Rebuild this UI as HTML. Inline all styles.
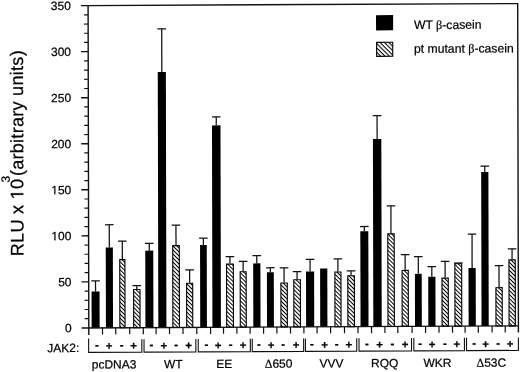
<!DOCTYPE html>
<html><head><meta charset="utf-8"><style>
html,body{margin:0;padding:0;background:#fff;}
body{width:520px;height:372px;overflow:hidden;}
svg{display:block;will-change:transform;}
text{font-family:"Liberation Sans",sans-serif;fill:#000;stroke:#000;stroke-width:0.22px;}
.t12{font-size:12px;}
.sg{font-size:11.5px;font-weight:bold;}
.t11{font-size:12.2px;}
.t16{font-size:18.2px;letter-spacing:0.22px;stroke-width:0.2px;}
.sy{font-family:"Liberation Serif",serif;}
.hid{fill:none;stroke:none;}
.g1{fill:#000;stroke:#000;stroke-width:0.22px;}
.ax{stroke:#111;stroke-width:1.4;}
.tk{stroke:#111;stroke-width:1.2;}
.e{stroke:#111;stroke-width:1.25;}
.br{stroke:#111;stroke-width:1.1;}
</style></head><body>
<svg width="520" height="372" viewBox="0 0 520 372">
<defs><pattern id="h" patternUnits="userSpaceOnUse" width="2.85" height="2.85" patternTransform="rotate(45)"><rect width="2.85" height="2.85" fill="#fff"/><rect width="2.85" height="1.0" fill="#000"/></pattern><pattern id="h2" patternUnits="userSpaceOnUse" width="3.1" height="3.1" patternTransform="rotate(45)"><rect width="3.1" height="3.1" fill="#fff"/><rect width="3.1" height="1.05" fill="#000"/></pattern></defs>
<rect width="520" height="372" fill="#fff"/>
<g transform="matrix(1,-0.00470,0.00220,1,-0.7216,0.4174)">
<line x1="95.63" y1="291.62" x2="95.63" y2="280.94" class="e"/>
<line x1="91.33" y1="280.94" x2="99.93" y2="280.94" class="e"/>
<rect x="91.63" y="291.62" width="8" height="36.28" fill="#000"/>
<line x1="109.48" y1="247.6" x2="109.48" y2="224.86" class="e"/>
<line x1="105.18" y1="224.86" x2="113.78" y2="224.86" class="e"/>
<rect x="105.93" y="247.6" width="7.1" height="80.3" fill="#000"/>
<line x1="122.48" y1="259.2" x2="122.48" y2="241.25" class="e"/>
<line x1="118.18" y1="241.25" x2="126.78" y2="241.25" class="e"/>
<rect x="119.88" y="259.75" width="5.2" height="68.15" fill="url(#h)" stroke="#000" stroke-width="1.1"/>
<line x1="136.88" y1="289.22" x2="136.88" y2="285.82" class="e"/>
<line x1="132.58" y1="285.82" x2="141.18" y2="285.82" class="e"/>
<rect x="133.68" y="289.77" width="6.4" height="38.13" fill="url(#h)" stroke="#000" stroke-width="1.1"/>
<line x1="149.43" y1="250.92" x2="149.43" y2="243.73" class="e"/>
<line x1="145.13" y1="243.73" x2="153.73" y2="243.73" class="e"/>
<rect x="145.43" y="250.92" width="8" height="76.98" fill="#000"/>
<line x1="162.38" y1="72.27" x2="162.38" y2="29.27" class="e"/>
<line x1="158.08" y1="29.27" x2="166.68" y2="29.27" class="e"/>
<rect x="158.33" y="72.27" width="8.1" height="255.63" fill="#000"/>
<line x1="176.18" y1="245.48" x2="176.18" y2="225.59" class="e"/>
<line x1="171.88" y1="225.59" x2="180.48" y2="225.59" class="e"/>
<rect x="172.88" y="246.03" width="6.6" height="81.87" fill="url(#h)" stroke="#000" stroke-width="1.1"/>
<line x1="189.73" y1="283.15" x2="189.73" y2="270.35" class="e"/>
<line x1="185.43" y1="270.35" x2="194.03" y2="270.35" class="e"/>
<rect x="186.68" y="283.7" width="6.1" height="44.2" fill="url(#h)" stroke="#000" stroke-width="1.1"/>
<line x1="203.58" y1="245.58" x2="203.58" y2="238.76" class="e"/>
<line x1="199.28" y1="238.76" x2="207.88" y2="238.76" class="e"/>
<rect x="200.23" y="245.58" width="6.7" height="82.32" fill="#000"/>
<line x1="216.68" y1="125.96" x2="216.68" y2="117.39" class="e"/>
<line x1="212.38" y1="117.39" x2="220.98" y2="117.39" class="e"/>
<rect x="212.43" y="125.96" width="8.5" height="201.94" fill="#000"/>
<line x1="230.08" y1="264.27" x2="230.08" y2="257.36" class="e"/>
<line x1="225.78" y1="257.36" x2="234.38" y2="257.36" class="e"/>
<rect x="226.68" y="264.82" width="6.8" height="63.08" fill="url(#h)" stroke="#000" stroke-width="1.1"/>
<line x1="243.28" y1="271.91" x2="243.28" y2="262.06" class="e"/>
<line x1="238.98" y1="262.06" x2="247.58" y2="262.06" class="e"/>
<rect x="240.28" y="272.46" width="6" height="55.44" fill="url(#h)" stroke="#000" stroke-width="1.1"/>
<line x1="256.93" y1="264.18" x2="256.93" y2="256.44" class="e"/>
<line x1="252.63" y1="256.44" x2="261.23" y2="256.44" class="e"/>
<rect x="253.33" y="264.18" width="7.2" height="63.72" fill="#000"/>
<line x1="270.48" y1="273.11" x2="270.48" y2="268.6" class="e"/>
<line x1="266.18" y1="268.6" x2="274.78" y2="268.6" class="e"/>
<rect x="267.03" y="273.11" width="6.9" height="54.79" fill="#000"/>
<line x1="284.18" y1="283.33" x2="284.18" y2="268.69" class="e"/>
<line x1="279.88" y1="268.69" x2="288.48" y2="268.69" class="e"/>
<rect x="280.98" y="283.88" width="6.4" height="44.02" fill="url(#h)" stroke="#000" stroke-width="1.1"/>
<line x1="297.18" y1="280.2" x2="297.18" y2="272.56" class="e"/>
<line x1="292.88" y1="272.56" x2="301.48" y2="272.56" class="e"/>
<rect x="293.88" y="280.75" width="6.6" height="47.15" fill="url(#h)" stroke="#000" stroke-width="1.1"/>
<line x1="310.18" y1="272.56" x2="310.18" y2="260.4" class="e"/>
<line x1="305.88" y1="260.4" x2="314.48" y2="260.4" class="e"/>
<rect x="306.13" y="272.56" width="8.1" height="55.34" fill="#000"/>
<rect x="320.23" y="269.61" width="7.2" height="58.29" fill="#000"/>
<line x1="338.03" y1="272.65" x2="338.03" y2="260.12" class="e"/>
<line x1="333.73" y1="260.12" x2="342.33" y2="260.12" class="e"/>
<rect x="334.98" y="273.2" width="6.1" height="54.7" fill="url(#h)" stroke="#000" stroke-width="1.1"/>
<line x1="351.18" y1="276.42" x2="351.18" y2="272.19" class="e"/>
<line x1="346.88" y1="272.19" x2="355.48" y2="272.19" class="e"/>
<rect x="347.88" y="276.97" width="6.6" height="50.93" fill="url(#h)" stroke="#000" stroke-width="1.1"/>
<line x1="364.53" y1="232.5" x2="364.53" y2="227.8" class="e"/>
<line x1="360.23" y1="227.8" x2="368.83" y2="227.8" class="e"/>
<rect x="360.53" y="232.5" width="8" height="95.4" fill="#000"/>
<line x1="377.53" y1="140.32" x2="377.53" y2="116.93" class="e"/>
<line x1="373.23" y1="116.93" x2="381.83" y2="116.93" class="e"/>
<rect x="373.33" y="140.32" width="8.4" height="187.58" fill="#000"/>
<line x1="391.18" y1="234.71" x2="391.18" y2="207.27" class="e"/>
<line x1="386.88" y1="207.27" x2="395.48" y2="207.27" class="e"/>
<rect x="387.98" y="235.26" width="6.4" height="92.64" fill="url(#h)" stroke="#000" stroke-width="1.1"/>
<line x1="405.28" y1="271.36" x2="405.28" y2="256.17" class="e"/>
<line x1="400.98" y1="256.17" x2="409.58" y2="256.17" class="e"/>
<rect x="402.18" y="271.91" width="6.2" height="55.99" fill="url(#h)" stroke="#000" stroke-width="1.1"/>
<line x1="418.43" y1="275.41" x2="418.43" y2="258.1" class="e"/>
<line x1="414.13" y1="258.1" x2="422.73" y2="258.1" class="e"/>
<rect x="415.03" y="275.41" width="6.8" height="52.49" fill="#000"/>
<line x1="431.93" y1="278.45" x2="431.93" y2="268.23" class="e"/>
<line x1="427.63" y1="268.23" x2="436.23" y2="268.23" class="e"/>
<rect x="428.33" y="278.45" width="7.2" height="49.45" fill="#000"/>
<line x1="445.23" y1="279.28" x2="445.23" y2="262.98" class="e"/>
<line x1="440.93" y1="262.98" x2="449.53" y2="262.98" class="e"/>
<rect x="442.08" y="279.83" width="6.3" height="48.07" fill="url(#h)" stroke="#000" stroke-width="1.1"/>
<line x1="458.38" y1="264.91" x2="458.38" y2="264.73" class="e"/>
<line x1="454.08" y1="264.73" x2="462.68" y2="264.73" class="e"/>
<rect x="454.98" y="265.46" width="6.8" height="62.44" fill="url(#h)" stroke="#000" stroke-width="1.1"/>
<line x1="472.23" y1="269.7" x2="472.23" y2="235.91" class="e"/>
<line x1="467.93" y1="235.91" x2="476.53" y2="235.91" class="e"/>
<rect x="468.63" y="269.7" width="7.2" height="58.2" fill="#000"/>
<line x1="485.13" y1="173.93" x2="485.13" y2="167.95" class="e"/>
<line x1="480.83" y1="167.95" x2="489.43" y2="167.95" class="e"/>
<rect x="481.53" y="173.93" width="7.2" height="153.97" fill="#000"/>
<line x1="499.13" y1="289.04" x2="499.13" y2="267.58" class="e"/>
<line x1="494.83" y1="267.58" x2="503.43" y2="267.58" class="e"/>
<rect x="495.98" y="289.59" width="6.3" height="38.31" fill="url(#h)" stroke="#000" stroke-width="1.1"/>
<line x1="512.23" y1="261.32" x2="512.23" y2="250.82" class="e"/>
<line x1="507.93" y1="250.82" x2="516.53" y2="250.82" class="e"/>
<rect x="509.08" y="261.87" width="6.3" height="66.03" fill="url(#h)" stroke="#000" stroke-width="1.1"/>
<polyline points="88.8,334.9 88.8,5.6 518.4,5.6 518.4,334.6" class="ax" fill="none"/>
<line x1="81.6" y1="5.6" x2="88.8" y2="5.6" class="ax"/>
<line x1="81.6" y1="327.9" x2="518.4" y2="327.9" class="ax"/>
<line x1="84.7" y1="318.69" x2="88.8" y2="318.69" class="tk"/>
<line x1="84.7" y1="309.48" x2="88.8" y2="309.48" class="tk"/>
<line x1="84.7" y1="300.27" x2="88.8" y2="300.27" class="tk"/>
<line x1="84.7" y1="291.07" x2="88.8" y2="291.07" class="tk"/>
<line x1="81.6" y1="281.86" x2="88.8" y2="281.86" class="ax"/>
<line x1="84.7" y1="272.65" x2="88.8" y2="272.65" class="tk"/>
<line x1="84.7" y1="263.44" x2="88.8" y2="263.44" class="tk"/>
<line x1="84.7" y1="254.23" x2="88.8" y2="254.23" class="tk"/>
<line x1="84.7" y1="245.02" x2="88.8" y2="245.02" class="tk"/>
<line x1="81.6" y1="235.81" x2="88.8" y2="235.81" class="ax"/>
<line x1="84.7" y1="226.61" x2="88.8" y2="226.61" class="tk"/>
<line x1="84.7" y1="217.4" x2="88.8" y2="217.4" class="tk"/>
<line x1="84.7" y1="208.19" x2="88.8" y2="208.19" class="tk"/>
<line x1="84.7" y1="198.98" x2="88.8" y2="198.98" class="tk"/>
<line x1="81.6" y1="189.77" x2="88.8" y2="189.77" class="ax"/>
<line x1="84.7" y1="180.56" x2="88.8" y2="180.56" class="tk"/>
<line x1="84.7" y1="171.35" x2="88.8" y2="171.35" class="tk"/>
<line x1="84.7" y1="162.15" x2="88.8" y2="162.15" class="tk"/>
<line x1="84.7" y1="152.94" x2="88.8" y2="152.94" class="tk"/>
<line x1="81.6" y1="143.73" x2="88.8" y2="143.73" class="ax"/>
<line x1="84.7" y1="134.52" x2="88.8" y2="134.52" class="tk"/>
<line x1="84.7" y1="125.31" x2="88.8" y2="125.31" class="tk"/>
<line x1="84.7" y1="116.1" x2="88.8" y2="116.1" class="tk"/>
<line x1="84.7" y1="106.89" x2="88.8" y2="106.89" class="tk"/>
<line x1="81.6" y1="97.69" x2="88.8" y2="97.69" class="ax"/>
<line x1="84.7" y1="88.48" x2="88.8" y2="88.48" class="tk"/>
<line x1="84.7" y1="79.27" x2="88.8" y2="79.27" class="tk"/>
<line x1="84.7" y1="70.06" x2="88.8" y2="70.06" class="tk"/>
<line x1="84.7" y1="60.85" x2="88.8" y2="60.85" class="tk"/>
<line x1="81.6" y1="51.64" x2="88.8" y2="51.64" class="ax"/>
<line x1="84.7" y1="42.43" x2="88.8" y2="42.43" class="tk"/>
<line x1="84.7" y1="33.23" x2="88.8" y2="33.23" class="tk"/>
<line x1="84.7" y1="24.02" x2="88.8" y2="24.02" class="tk"/>
<line x1="84.7" y1="14.81" x2="88.8" y2="14.81" class="tk"/>
<line x1="102.5" y1="327.9" x2="102.5" y2="334.5" class="tk"/>
<line x1="115.7" y1="327.9" x2="115.7" y2="334.5" class="tk"/>
<line x1="129.7" y1="327.9" x2="129.7" y2="334.5" class="tk"/>
<line x1="143.3" y1="327.9" x2="143.3" y2="334.5" class="tk"/>
<line x1="156.1" y1="327.9" x2="156.1" y2="334.5" class="tk"/>
<line x1="169.5" y1="327.9" x2="169.5" y2="334.5" class="tk"/>
<line x1="183" y1="327.9" x2="183" y2="334.5" class="tk"/>
<line x1="196.8" y1="327.9" x2="196.8" y2="334.5" class="tk"/>
<line x1="210.6" y1="327.9" x2="210.6" y2="334.5" class="tk"/>
<line x1="223.5" y1="327.9" x2="223.5" y2="334.5" class="tk"/>
<line x1="236.9" y1="327.9" x2="236.9" y2="334.5" class="tk"/>
<line x1="250.1" y1="327.9" x2="250.1" y2="334.5" class="tk"/>
<line x1="263.6" y1="327.9" x2="263.6" y2="334.5" class="tk"/>
<line x1="276.9" y1="327.9" x2="276.9" y2="334.5" class="tk"/>
<line x1="290.5" y1="327.9" x2="290.5" y2="334.5" class="tk"/>
<line x1="303.9" y1="327.9" x2="303.9" y2="334.5" class="tk"/>
<line x1="317.1" y1="327.9" x2="317.1" y2="334.5" class="tk"/>
<line x1="330.6" y1="327.9" x2="330.6" y2="334.5" class="tk"/>
<line x1="344.5" y1="327.9" x2="344.5" y2="334.5" class="tk"/>
<line x1="358" y1="327.9" x2="358" y2="334.5" class="tk"/>
<line x1="371.5" y1="327.9" x2="371.5" y2="334.5" class="tk"/>
<line x1="384.9" y1="327.9" x2="384.9" y2="334.5" class="tk"/>
<line x1="397.8" y1="327.9" x2="397.8" y2="334.5" class="tk"/>
<line x1="412.1" y1="327.9" x2="412.1" y2="334.5" class="tk"/>
<line x1="425.6" y1="327.9" x2="425.6" y2="334.5" class="tk"/>
<line x1="439" y1="327.9" x2="439" y2="334.5" class="tk"/>
<line x1="452.5" y1="327.9" x2="452.5" y2="334.5" class="tk"/>
<line x1="465.1" y1="327.9" x2="465.1" y2="334.5" class="tk"/>
<line x1="478.3" y1="327.9" x2="478.3" y2="334.5" class="tk"/>
<line x1="492.1" y1="327.9" x2="492.1" y2="334.5" class="tk"/>
<line x1="505.2" y1="327.9" x2="505.2" y2="334.5" class="tk"/>
<text x="71.6" y="332.2" text-anchor="end" class="t12">0</text>
<text x="71.6" y="286.16" text-anchor="end" class="t12">50</text>
<text x="71.6" y="240.11" text-anchor="end" class="t12"><tspan class="hid">1</tspan>00</text>
<path class="g1" d="M54.6 240.11 L54.6 232.87 L52.73 234.2 L52.73 233.2 L54.68 231.86 L55.66 231.86 L55.66 240.11Z"/>
<text x="71.6" y="194.07" text-anchor="end" class="t12"><tspan class="hid">1</tspan>50</text>
<path class="g1" d="M54.6 194.07 L54.6 186.82 L52.73 188.15 L52.73 187.16 L54.68 185.82 L55.66 185.82 L55.66 194.07Z"/>
<text x="71.6" y="148.03" text-anchor="end" class="t12">200</text>
<text x="71.6" y="101.99" text-anchor="end" class="t12">250</text>
<text x="71.6" y="55.94" text-anchor="end" class="t12">300</text>
<text x="71.6" y="9.9" text-anchor="end" class="t12">350</text>
<g transform="translate(23.6,256) rotate(-90)">
<path class="g1" d="M61.47 0 L61.47 -10.99 L58.64 -8.98 L58.64 -10.49 L61.6 -12.52 L63.08 -12.52 L63.08 0Z"/>
<text class="t16">RLU x <tspan class="hid">1</tspan>0<tspan dx="-3.6" dy="-13.5" font-size="12">3</tspan><tspan dx="-0.7" dy="13.5">(arbitrary units)</tspan></text></g>
<rect x="376.7" y="16.5" width="17.1" height="15.3" fill="#000"/>
<rect x="377.25" y="43.75" width="16.1" height="14" fill="url(#h2)" stroke="#000" stroke-width="1.1"/>
<text x="414.6" y="30.6" class="t11">WT <tspan class="sy">β</tspan>-casein</text>
<text x="414.6" y="54.4" class="t11">pt mutant <tspan class="sy">β</tspan>-casein</text>
<text x="47.2" y="352" class="t12">JAK2:</text>
<polyline points="88.6,338.4 88.6,352.4 141.8,352.4 141.8,339.4" class="br" fill="none"/>
<text x="96.96" y="348.8" text-anchor="middle" class="sg">-</text>
<text x="108.96" y="349.8" text-anchor="middle" class="sg">+</text>
<text x="121.66" y="348.8" text-anchor="middle" class="sg">-</text>
<text x="133.66" y="349.8" text-anchor="middle" class="sg">+</text>
<polyline points="144,339.4 144,352.4 195.8,352.4 195.8,339.4" class="br" fill="none"/>
<text x="151.46" y="348.8" text-anchor="middle" class="sg">-</text>
<text x="163.76" y="349.8" text-anchor="middle" class="sg">+</text>
<text x="176.16" y="348.8" text-anchor="middle" class="sg">-</text>
<text x="188.46" y="349.8" text-anchor="middle" class="sg">+</text>
<polyline points="198.2,339.4 198.2,352.4 250.3,352.4 250.3,339.4" class="br" fill="none"/>
<text x="206.46" y="348.8" text-anchor="middle" class="sg">-</text>
<text x="217.96" y="349.8" text-anchor="middle" class="sg">+</text>
<text x="230.66" y="348.8" text-anchor="middle" class="sg">-</text>
<text x="243.16" y="349.8" text-anchor="middle" class="sg">+</text>
<polyline points="252.2,339.4 252.2,352.4 303.6,352.4 303.6,339.4" class="br" fill="none"/>
<text x="258.86" y="348.8" text-anchor="middle" class="sg">-</text>
<text x="271.16" y="349.8" text-anchor="middle" class="sg">+</text>
<text x="283.16" y="348.8" text-anchor="middle" class="sg">-</text>
<text x="296.06" y="349.8" text-anchor="middle" class="sg">+</text>
<polyline points="305.4,339.4 305.4,352.4 356.7,352.4 356.7,339.4" class="br" fill="none"/>
<text x="311.96" y="348.8" text-anchor="middle" class="sg">-</text>
<text x="324.46" y="349.8" text-anchor="middle" class="sg">+</text>
<text x="336.66" y="348.8" text-anchor="middle" class="sg">-</text>
<text x="348.76" y="349.8" text-anchor="middle" class="sg">+</text>
<polyline points="359,339.4 359,352.4 411.5,352.4 411.5,339.4" class="br" fill="none"/>
<text x="366.96" y="348.8" text-anchor="middle" class="sg">-</text>
<text x="379.66" y="349.8" text-anchor="middle" class="sg">+</text>
<text x="392.36" y="348.8" text-anchor="middle" class="sg">-</text>
<text x="405.06" y="349.8" text-anchor="middle" class="sg">+</text>
<polyline points="413.8,339.4 413.8,352.4 464.4,352.4 464.4,339.4" class="br" fill="none"/>
<text x="420.06" y="348.8" text-anchor="middle" class="sg">-</text>
<text x="432.16" y="349.8" text-anchor="middle" class="sg">+</text>
<text x="444.86" y="348.8" text-anchor="middle" class="sg">-</text>
<text x="456.86" y="349.8" text-anchor="middle" class="sg">+</text>
<polyline points="466.5,339.4 466.5,352.4 518.35,352.4 518.35,339.4" class="br" fill="none"/>
<text x="474.16" y="348.8" text-anchor="middle" class="sg">-</text>
<text x="485.66" y="349.8" text-anchor="middle" class="sg">+</text>
<text x="498.16" y="348.8" text-anchor="middle" class="sg">-</text>
<text x="509.96" y="349.8" text-anchor="middle" class="sg">+</text>
<text x="114" y="368.6" text-anchor="middle" class="t12">pcDNA3</text>
<text x="173.2" y="368.6" text-anchor="middle" class="t12">WT</text>
<text x="224.3" y="368.6" text-anchor="middle" class="t12">EE</text>
<text x="278.5" y="368.6" text-anchor="middle" class="t12"><tspan class="sy">Δ</tspan>650</text>
<text x="331.4" y="368.6" text-anchor="middle" class="t12">VVV</text>
<text x="384.7" y="368.6" text-anchor="middle" class="t12">RQQ</text>
<text x="437.3" y="368.6" text-anchor="middle" class="t12">WKR</text>
<text x="491.2" y="368.6" text-anchor="middle" class="t12"><tspan class="sy">Δ</tspan>53C</text>
</g>
</svg>
</body></html>
